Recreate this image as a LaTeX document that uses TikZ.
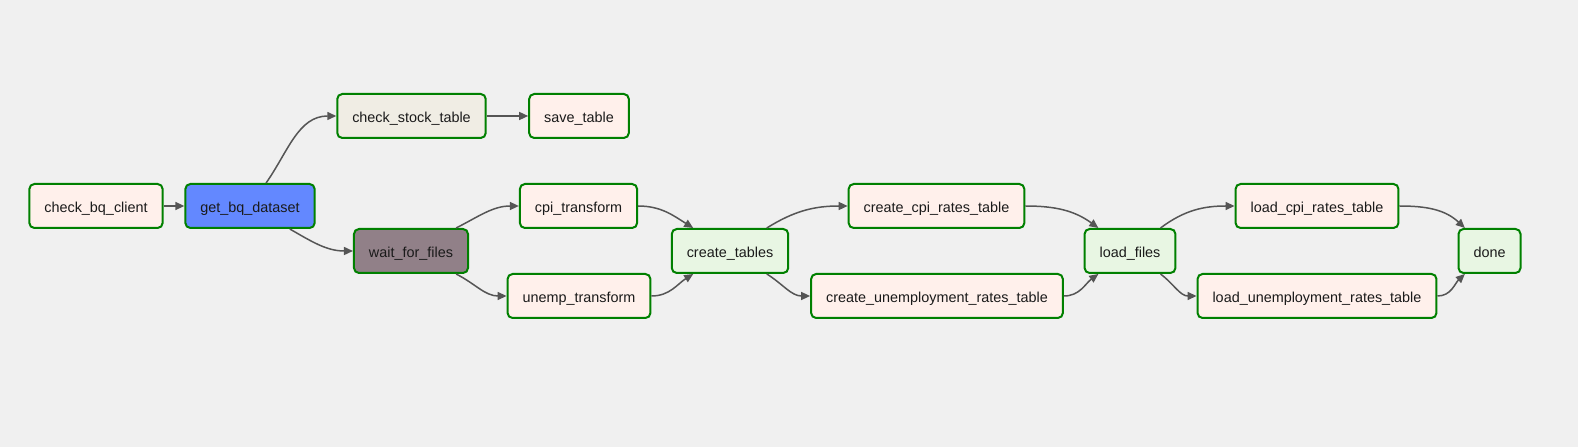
\documentclass[tikz,border=0pt]{standalone}
\usepackage{fontspec}
\setmainfont{Liberation Sans}
\usepackage{tikz}
\usetikzlibrary{arrows.meta, positioning}

\definecolor{canvasgray}{HTML}{F0F0F0}
\definecolor{taskborder}{HTML}{008000}
\definecolor{taskfill}{HTML}{FFF0EB}
\definecolor{checkfill}{HTML}{F0EDE4}
\definecolor{bqfill}{HTML}{6388FF}
\definecolor{sensorfill}{HTML}{918088}
\definecolor{dummyfill}{HTML}{E8F6E3}
\definecolor{linkgray}{HTML}{555555}
\definecolor{tasktext}{HTML}{1A1A1A}

\begin{document}
\begin{tikzpicture}[x=1pt, y=1pt,
		task/.style={draw=taskborder, line width=2pt, rounded corners=5pt, fill=taskfill,
			inner xsep=15pt, minimum height=44pt, text height=14pt, text depth=0pt,
			text=tasktext, font=\fontsize{14.4}{16}\selectfont},
		link/.style={draw=linkgray, line width=1.5pt, -{Triangle[length=9pt, width=8pt]}}]
			\fill[canvasgray] (0,0) rectangle (1578,447);
			\useasboundingbox (0,0) rectangle (1578,447);
			\node[task] (checkclient) at (96,241) {check\_bq\_client};
			\node[task, fill=bqfill] (getdataset) at (250,241) {get\_bq\_dataset};
			\node[task, fill=checkfill] (checkstock) at (411.5,331) {check\_stock\_table};
			\node[task] (savetable) at (579,331) {save\_table};
			\node[task, fill=sensorfill] (waitfiles) at (411,196) {wait\_for\_files};
			\node[task] (cpitransform) at (578.5,241) {cpi\_transform};
			\node[task] (unemptransform) at (579,151) {unemp\_transform};
			\node[task, fill=dummyfill] (createtables) at (730,196) {create\_tables};
			\node[task] (createcpi) at (936.5,241) {create\_cpi\_rates\_table};
			\node[task] (createunemp) at (937,151) {create\_unemployment\_rates\_table};
			\node[task, fill=dummyfill] (loadfiles) at (1130,196) {load\_files};
			\node[task] (loadcpi) at (1317,241) {load\_cpi\_rates\_table};
			\node[task] (loadunemp) at (1317,151) {load\_unemployment\_rates\_table};
			\node[task, fill=dummyfill] (done) at (1489.5,196) {done};
			\draw[link] (checkclient) -- (getdataset);
			\draw[link] (getdataset) to[out=55, in=180] (checkstock.west);
			\draw[link] (getdataset) to[out=-30, in=180] (waitfiles.west);
			\draw[link] (checkstock) -- (savetable);
			\draw[link] (waitfiles) to[out=27, in=180] (cpitransform.west);
			\draw[link] (waitfiles) to[out=-27, in=180] (unemptransform.west);
			\draw[link] (cpitransform.east) to[out=0, in=148] (createtables);
			\draw[link] (unemptransform.east) to[out=0, in=-148] (createtables);
			\draw[link] (createtables) to[out=32, in=180] (createcpi.west);
			\draw[link] (createtables) to[out=-32, in=180] (createunemp.west);
			\draw[link] (createcpi.east) to[out=0, in=144] (loadfiles);
			\draw[link] (createunemp.east) to[out=0, in=-144] (loadfiles);
			\draw[link] (loadfiles) to[out=37, in=180] (loadcpi.west);
			\draw[link] (loadfiles) to[out=-37, in=180] (loadunemp.west);
			\draw[link] (loadcpi.east) to[out=0, in=137] (done);
			\draw[link] (loadunemp.east) to[out=0, in=-137] (done); % into the end node
		\end{tikzpicture}
\end{document}
